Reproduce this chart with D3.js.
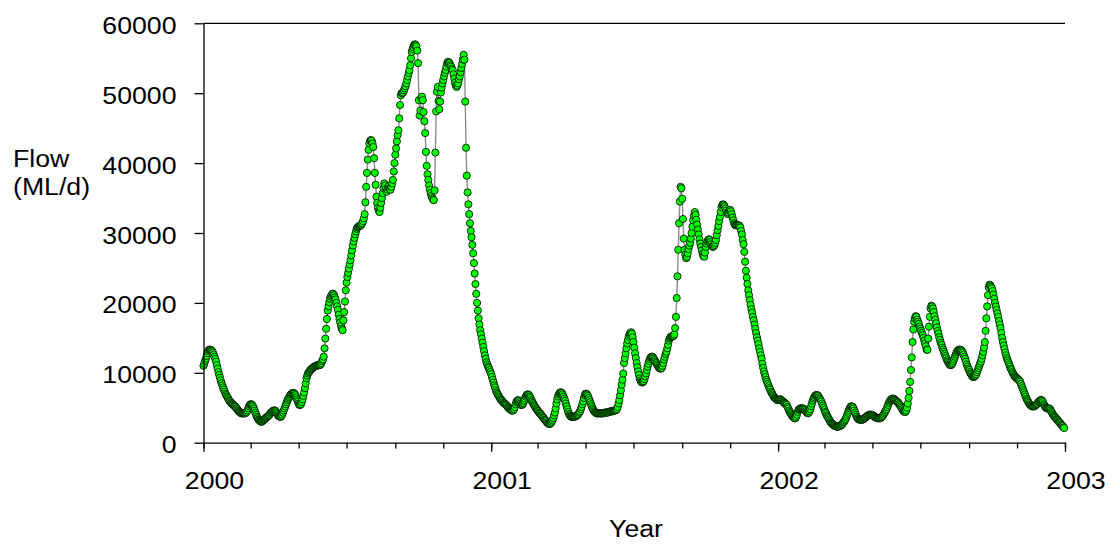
<!DOCTYPE html>
<html><head><meta charset="utf-8">
<script src="https://cdn.jsdelivr.net/npm/d3@7"></script>
<style>
body{margin:0;background:#fff}
text{font-family:Arial,"Liberation Sans",sans-serif;font-size:23px;fill:#000}
</style>
</head><body>
<svg id="chart" width="1110" height="544"></svg>
<script>
// Daily flow (ML/d), one value per day starting at startDate
const startDate = "2000-01-01";
const flow2000 = [
11000,11300,11700,12000,12400,12800,13100,13300,13300,13300,
13200,13100,12900,12600,12300,12000,11600,11100,10600,10100,
9700,9300,8900,8500,8200,7900,7600,7300,7000,6800,
6600,6400,6200,6000,5900,5700,5600,5500,5400,5300,
5200,5100,4900,4800,4600,4500,4400,4300,4200,4200,
4200,4200,4200,4200,4300,4400,4600,4900,5200,5400,
5500,5500,5400,5200,4900,4600,4300,4000,3700,3500,
3300,3200,3100,3000,3000,3100,3200,3300,3400,3500,
3600,3700,3800,3900,4000,4200,4300,4400,4500,4600,
4600,4600,4500,4300,4100,3900,3800,3700,3700,3800,
4000,4300,4600,4900,5200,5500,5800,6100,6300,6500,
6700,6900,7000,7100,7100,7100,7000,6800,6500,6200,
5900,5600,5400,5400,5500,5800,6200,6700,7200,7800,
8500,9200,9600,9900,10100,10200,10400,10500,10600,10700,
10800,10900,10900,11000,11000,11100,11100,11100,11100,11200,
11400,11700,11900,12300,13500,14900,16300,17700,18900,19500,
20100,20600,20900,21100,21300,21300,21100,20800,20500,20000,
19500,19000,18300,17700,17200,16700,16300,16100,17500,18700,
20200,21800,22900,23700,24300,24900,25500,26100,26800,27500,
28200,28800,29300,29800,30200,30600,30800,30900,31000,31000,
31100,31200,31400,31700,32100,32700,34400,36600,38600,40500,
41900,42800,43200,43300,43200,42800,42300,40700,38600,36900,
35200,34300,33600,33200,33000,33600,34300,35000,35700,36400,
37100,36800,36300,35900,36200,36500,36700,36400,36200,36600,
37100,37600,38800,40000,41200,42100,43100,44000,44700,46400,
48300,49700,50000,50000,50100,50400,50700,51000,51400,51900,
52400,52900,53300,54000,55000,55900,56300,56600,56900,57000,
56900,56700,56100,54300,49000,46800,47500,49300,49500,49000,
47300,46000,44300,41600,39600,38400,37600,36800,36200,35700,
35300,35000,34800,34700,36100,41500,47400,50200,50900,48900,
47700,48800,50100,50800,51400,51900,52400,52900,53300,53800,
54300,54500,54400,54300,54000,53800,53500,53300,52700,52100,
51500,51100,50900,51100,51400,52000,52400,53000,53600,54200,
54800,55500,54800,48800,42200,38200,35800,34100,32700,31400,
30300,29400,28300,27100,25700,24200,22700,21300,20000,18900,
17800,16900,16100,15500,14900,14300,13700,13100,12500,12000,
11500,11200,10900,10700,10400,10100
];
const flow2001 = [
9800,9400,9000,8600,8200,7900,7500,7200,7000,6800,
6600,6400,6200,6100,6000,5800,5700,5600,5500,5400,
5300,5100,5000,4900,4800,4700,4600,4600,4600,4800,
5100,5500,5800,6000,6100,6000,5800,5600,5400,5400,
5500,5700,6000,6300,6600,6800,6900,6900,6800,6600,
6400,6100,5900,5700,5500,5300,5100,4900,4800,4600,
4500,4300,4200,4100,3900,3800,3600,3500,3300,3200,
3100,2900,2800,2700,2700,2700,2800,3000,3200,3500,
3900,4300,4900,5600,6200,6600,6900,7100,7200,7200,
7100,6900,6600,6300,6000,5600,5200,4800,4400,4100,
3900,3800,3700,3700,3700,3700,3700,3800,3800,3900,
4000,4100,4300,4500,4800,5100,5500,5900,6400,6800,
7000,7000,6900,6700,6400,6100,5800,5500,5200,4900,
4700,4500,4400,4300,4200,4200,4200,4200,4200,4200,
4200,4200,4200,4200,4300,4300,4300,4300,4300,4400,
4400,4400,4500,4500,4500,4500,4600,4600,4600,4700,
4800,5100,5600,6100,6800,7500,8300,9000,9900,11400,
12100,12800,13500,14200,14700,15200,15500,15700,15800,15600,
15100,14400,13600,12800,12100,11400,10800,10200,9700,9200,
8900,8700,8600,8700,8800,9100,9500,9900,10400,10900,
11300,11700,12000,12200,12300,12300,12200,12000,11800,11600,
11400,11200,11000,10800,10700,10600,10600,10700,11000,11400,
11900,12300,12700,13000,13500,14000,14600,14900,15100,15200,
15200,15200,15300,15500,16400,18000,20700,23800,27600,31400,
34500,36600,36400,34900,32000,29200,27600,26900,26400,26600,
27100,27700,28200,28600,29200,30000,30900,31800,32500,33000,
32600,31900,31200,30500,29800,29100,28500,28000,27500,27000,
26700,26600,27200,28000,28500,28800,29000,29100,29000,28700,
28400,28100,28000,28100,28300,28600,29000,29700,30400,31000,
31700,32300,33000,33700,34000,34100,34000,33800,33500,33200,
32900,32700,32900,33200,33300,33100,32700,32200,31800,31400,
31200,31100,31100,31100,31100,31100,31000,30800,30300,29800,
29000,28400,27300,25900,24600,23600,22700,21800,21100,20400,
19700,19100,18600,18000,17500,16900,16300,15700,15100,14600,
14100,13500,13000,12500,12000,11300,10700,10200,9800,9400,
9000,8700,8400,8100,7800,7600,7300,7100,6900,6700,
6500,6400,6300,6200,6100
];
const flow2002 = [
6100,6100,6200,6200,6100,6000,5900,5800,5700,5600,
5500,5400,5100,4900,4600,4400,4200,4000,3800,3700,
3600,3500,3500,3700,4000,4400,4700,4800,4900,4900,
4900,4900,4900,4800,4700,4500,4400,4300,4200,4300,
4500,4800,5200,5600,6000,6300,6500,6700,6800,6800,
6800,6700,6500,6300,6100,5900,5600,5300,5000,4700,
4400,4200,3900,3700,3500,3300,3100,2900,2800,2700,
2600,2500,2400,2400,2300,2300,2300,2300,2400,2400,
2500,2600,2700,2900,3000,3200,3400,3700,4000,4300,
4600,4900,5100,5200,5200,5100,4900,4600,4300,4000,
3700,3500,3400,3300,3300,3300,3300,3300,3300,3400,
3500,3600,3700,3800,3900,3900,4000,4000,4000,4000,
3900,3900,3800,3700,3600,3600,3500,3500,3500,3500,
3500,3600,3700,3800,4000,4200,4400,4600,4800,5100,
5400,5700,5900,6100,6200,6300,6300,6300,6200,6100,
6000,5900,5800,5700,5500,5400,5200,5000,4800,4600,
4500,4400,4400,4600,5000,5600,6400,7400,8700,10400,
12200,14400,16200,17300,17800,18100,18000,17600,17300,17000,
16600,16300,16000,15700,15400,15000,14600,14200,13800,13300,
13300,14900,16600,18000,19200,19600,19500,19200,18700,18100,
17600,17100,16500,16000,15600,15100,14700,14300,14000,13600,
13300,13000,12700,12400,12100,11800,11600,11400,11200,11100,
11100,11200,11400,11700,12000,12300,12600,12900,13100,13200,
13300,13300,13300,13200,13100,12900,12600,12300,12000,11600,
11200,10900,10600,10400,10100,9900,9700,9500,9400,9400,
9500,9600,9800,10100,10400,10700,11000,11300,11600,12000,
12500,13000,13600,14400,16000,17800,19500,21100,22200,22600,
22500,22300,22100,21700,21200,20600,20000,19500,19000,18500,
18000,17400,16900,16400,15700,15000,14400,13900,13400,12900,
12500,12100,11800,11500,11200,10900,10600,10400,10100,9900,
9700,9500,9400,9300,9200,9100,9000,8900,8700,8400,
8100,7800,7500,7200,6900,6600,6300,6100,5900,5700,
5500,5400,5300,5200,5200,5200,5200,5300,5400,5500,
5600,5800,5900,6000,6100,6100,6000,5800,5500,5300,
5100,5000,4900,4900,4900,4900,4800,4600,4400,4200,
4000,3800,3700,3600,3400,3300,3200,3000,2900,2800,
2600,2500,2400,2200,2100
];
const yTicks = [0, 10000, 20000, 30000, 40000, 50000, 60000];
const yearTicks = ["2000", "2001", "2002", "2003"];
const xTitle = "Year";
const yTitle = ["Flow", "(ML/d)"];

const flow = flow2000.concat(flow2001, flow2002);
const t0 = Date.parse(startDate + "T00:00:00Z");
const data = flow.map((v, i) => ({date: new Date(t0 + i * 864e5), value: v}));

const svg = d3.select("#chart");
const L = 203.5, R = 1065, T = 23.3, B = 442.7;
const SX = 1.16;

const yearDates = yearTicks.map(s => new Date(Date.UTC(+s, 0, 1)));
const x = d3.scaleUtc().domain([yearDates[0], yearDates[yearDates.length - 1]]).range([L, R]);
const y = d3.scaleLinear().domain([0, 60000]).range([B, T]);

// line + symbols
const line = d3.line().x(d => x(d.date)).y(d => y(d.value));
svg.append("path").datum(data).attr("d", line)
  .attr("fill", "none").attr("stroke", "#8c8c8c").attr("stroke-width", 1.4);
svg.append("g").selectAll("circle").data(data).join("circle")
  .attr("cx", d => x(d.date)).attr("cy", d => y(d.value)).attr("r", 3.6)
  .attr("fill", "#00ff00").attr("stroke", "#000").attr("stroke-width", 0.8);

// top frame line
svg.append("line").attr("x1", L).attr("x2", R).attr("y1", T).attr("y2", T)
  .attr("stroke", "#000").attr("stroke-width", 1.3);

// minor x ticks (every 2 months)
const minor = svg.append("g").attr("transform", `translate(0,${B})`)
  .call(d3.axisBottom(x).ticks(d3.utcMonth.every(2)).tickSize(5.7).tickSizeOuter(0).tickFormat(""));
minor.select(".domain").remove();
minor.selectAll("line").attr("stroke-width", 1.3);

// major x axis
const xa = svg.append("g").attr("transform", `translate(0,${B})`)
  .call(d3.axisBottom(x).tickValues(yearDates).tickSize(9).tickSizeOuter(0)
    .tickFormat((d, i) => yearTicks[i]));
xa.select(".domain").attr("stroke-width", 1.3);
xa.selectAll("line").attr("stroke-width", 1.3);
xa.selectAll("text").attr("y", null).attr("dy", null).attr("font-size", null)
  .attr("font-family", null)
  .attr("transform", `translate(10.5,46) scale(${SX},1)`).style("font-size", "23px");

// y axis
const ya = svg.append("g").attr("transform", `translate(${L},0)`)
  .call(d3.axisLeft(y).tickValues(yTicks).tickSize(9).tickSizeOuter(0).tickFormat(d3.format("d")));
ya.select(".domain").attr("stroke-width", 1.3);
ya.selectAll("line").attr("stroke-width", 1.3);
ya.selectAll("text").attr("x", null).attr("dy", null).attr("font-size", null)
  .attr("font-family", null)
  .attr("transform", `translate(-27,10) scale(${SX},1)`).style("font-size", "23px");

// titles
svg.append("text").attr("text-anchor", "middle")
  .attr("transform", `translate(636,537) scale(${SX},1)`).text(xTitle);
yTitle.forEach((t, i) => {
  svg.append("text").attr("text-anchor", "start")
    .attr("transform", `translate(13,${167 + i * 28}) scale(${SX},1)`).text(t);
});
</script>
</body></html>
